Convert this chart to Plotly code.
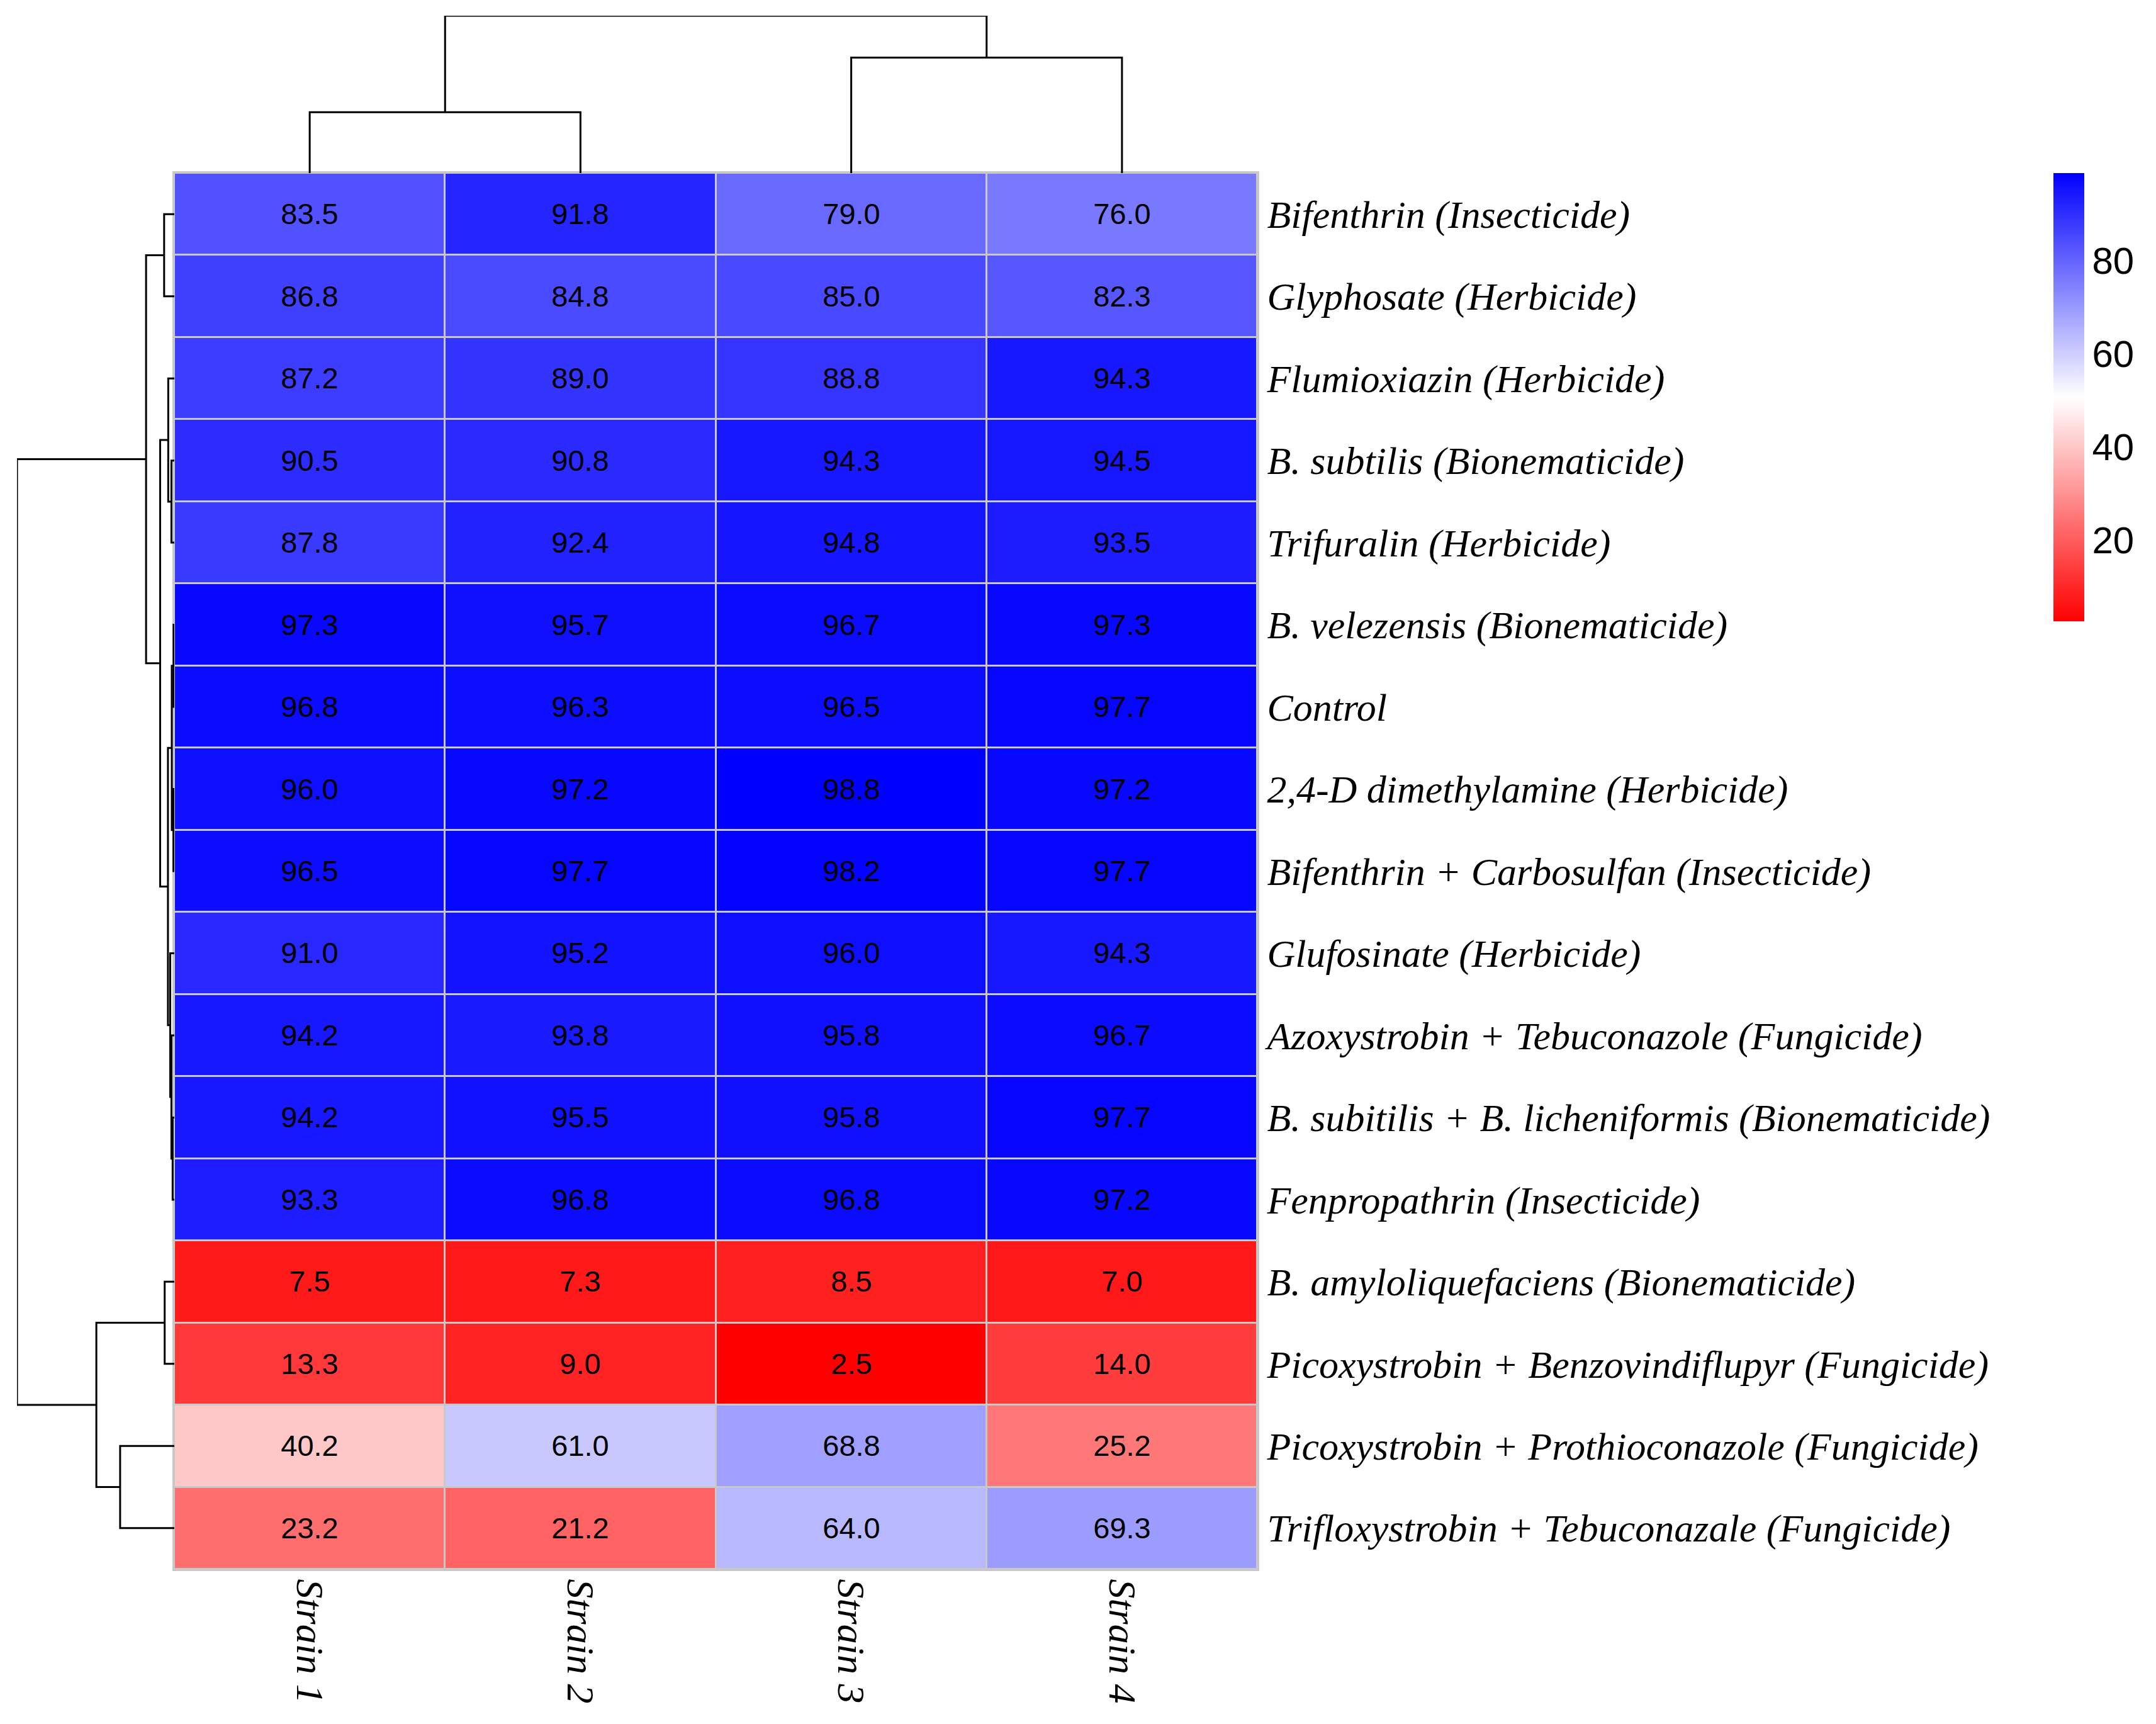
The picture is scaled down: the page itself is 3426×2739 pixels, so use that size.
import numpy as np
import plotly.graph_objects as go

# Datos (orden de filas tal como aparece en la figura)
treatments = [
    "Bifenthrin (Insecticide)",
    "Glyphosate (Herbicide)",
    "Flumioxiazin (Herbicide)",
    "B. subtilis (Bionematicide)",
    "Trifuralin (Herbicide)",
    "B. velezensis (Bionematicide)",
    "Control",
    "2,4-D dimethylamine (Herbicide)",
    "Bifenthrin + Carbosulfan (Insecticide)",
    "Glufosinate (Herbicide)",
    "Azoxystrobin + Tebuconazole (Fungicide)",
    "B. subitilis + B. licheniformis (Bionematicide)",
    "Fenpropathrin (Insecticide)",
    "B. amyloliquefaciens (Bionematicide)",
    "Picoxystrobin + Benzovindiflupyr (Fungicide)",
    "Picoxystrobin + Prothioconazole (Fungicide)",
    "Trifloxystrobin + Tebuconazale (Fungicide)",
]
strains = ["Strain 1", "Strain 2", "Strain 3", "Strain 4"]

strain1 = [83.5, 86.8, 87.2, 90.5, 87.8, 97.3, 96.8, 96.0, 96.5, 91.0, 94.2, 94.2, 93.3, 7.5, 13.3, 40.2, 23.2]
strain2 = [91.8, 84.8, 89.0, 90.8, 92.4, 95.7, 96.3, 97.2, 97.7, 95.2, 93.8, 95.5, 96.8, 7.3, 9.0, 61.0, 21.2]
strain3 = [79.0, 85.0, 88.8, 94.3, 94.8, 96.7, 96.5, 98.8, 98.2, 96.0, 95.8, 95.8, 96.8, 8.5, 2.5, 68.8, 64.0]
strain4 = [76.0, 82.3, 94.3, 94.5, 93.5, 97.3, 97.7, 97.2, 97.7, 94.3, 96.7, 97.7, 97.2, 7.0, 14.0, 25.2, 69.3]

cbar_ticks = [20, 40, 60, 80]

Z = np.array([strain1, strain2, strain3, strain4]).T
n_rows, n_cols = Z.shape

# la pagina tiene 8 px de margen en el body
M = 8
W, H = 3426 - 2 * M, 2739 - 2 * M


def fx(px):
    return (px - M) / W


def fy(px):
    return 1 - (px - M) / H


def complete_linkage(X):
    # clustering jerarquico (enlace completo, distancia euclidea)
    D = np.sqrt(((X[:, None, :] - X[None, :, :]) ** 2).sum(-1))
    clusters = {i: [i] for i in range(len(X))}
    merges = []
    nid = len(X)
    while len(clusters) > 1:
        keys = list(clusters)
        best = None
        for a in range(len(keys)):
            for b in range(a + 1, len(keys)):
                d = D[np.ix_(clusters[keys[a]], clusters[keys[b]])].max()
                if best is None or d < best[0]:
                    best = (d, keys[a], keys[b])
        d, ka, kb = best
        merges.append((ka, kb, d))
        clusters[nid] = clusters.pop(ka) + clusters.pop(kb)
        nid += 1
    return merges


def dendro_segments(merges, n):
    pos = {i: float(i) for i in range(n)}
    hgt = {i: 0.0 for i in range(n)}
    p, h = [], []
    nid = n
    for a, b, d in merges:
        p += [pos[a], pos[a], pos[b], pos[b], None]
        h += [hgt[a], d, d, hgt[b], None]
        pos[nid] = (pos[a] + pos[b]) / 2
        hgt[nid] = d
        nid += 1
    return p, h, max(m[2] for m in merges)


row_p, row_h, row_max = dendro_segments(complete_linkage(Z), n_rows)
col_p, col_h, col_max = dendro_segments(complete_linkage(Z.T), n_cols)

# posiciones en pixeles del lienzo
hm_x0, hm_x1 = fx(277), fx(1998)
hm_y0, hm_y1 = fy(2493), fy(275)

serif = "Palatino Linotype, Book Antiqua, Palatino, Liberation Serif, serif"
grid_col = "#C8C8C8"

fig = go.Figure()

fig.add_trace(go.Heatmap(
    z=Z, x=list(range(n_cols)), y=list(range(n_rows)),
    zmin=Z.min(), zmax=Z.max(),
    colorscale=[[0, "rgb(255,0,0)"], [0.5, "rgb(255,255,255)"], [1, "rgb(0,0,255)"]],
    xgap=3, ygap=3,
    texttemplate="%{z:.1f}",
    textfont=dict(family="Liberation Sans, Arial", size=47, color="black"),
    colorbar=dict(
        x=fx(3263), xanchor="left", y=fy(275), yanchor="top",
        len=(987 - 275) / H, lenmode="fraction", thickness=49,
        xpad=0, ypad=0, outlinewidth=0, tickvals=cbar_ticks, ticks="",
        tickfont=dict(family="Liberation Sans, Arial", size=60, color="black"),
    ),
    hoverinfo="skip",
))

fig.add_trace(go.Scatter(x=row_h, y=row_p, mode="lines", xaxis="x2", yaxis="y2",
                         line=dict(color="black", width=3), showlegend=False, hoverinfo="skip"))
fig.add_trace(go.Scatter(x=col_p, y=col_h, mode="lines", xaxis="x3", yaxis="y3",
                         line=dict(color="black", width=3), showlegend=False, hoverinfo="skip"))

# fondo gris solo detras del heatmap (bordes de celdas)
fig.add_shape(type="rect", xref="x domain", yref="y domain", x0=0, x1=1, y0=0, y1=1,
              fillcolor=grid_col, line_width=0, layer="below")

fig.update_layout(
    width=W, height=H,
    margin=dict(l=0, r=0, t=0, b=0),
    paper_bgcolor="white",
    plot_bgcolor="white",
    xaxis=dict(domain=[hm_x0, hm_x1], range=[-0.5, n_cols - 0.5],
               tickvals=list(range(n_cols)), ticktext=[f"<i>{s}</i>" for s in strains],
               tickangle=90, ticks="", showgrid=False, zeroline=False,
               showline=True, mirror=True, linecolor=grid_col, linewidth=3,
               tickfont=dict(family=serif, size=62, color="black")),
    yaxis=dict(domain=[hm_y0, hm_y1], range=[n_rows - 0.5, -0.5], side="right",
               tickvals=list(range(n_rows)), ticktext=[f"<i>{t}</i>" for t in treatments],
               ticks="", showgrid=False, zeroline=False,
               showline=True, mirror=True, linecolor=grid_col, linewidth=3,
               tickfont=dict(family=serif, size=62, color="black")),
    xaxis2=dict(domain=[fx(27), hm_x0], range=[row_max, 0], visible=False),
    yaxis2=dict(domain=[hm_y0, hm_y1], range=[n_rows - 0.5, -0.5], visible=False),
    xaxis3=dict(domain=[hm_x0, hm_x1], range=[-0.5, n_cols - 0.5], visible=False),
    yaxis3=dict(domain=[hm_y1, fy(25)], range=[0, col_max], visible=False),
)

fig.write_html("out.html")
